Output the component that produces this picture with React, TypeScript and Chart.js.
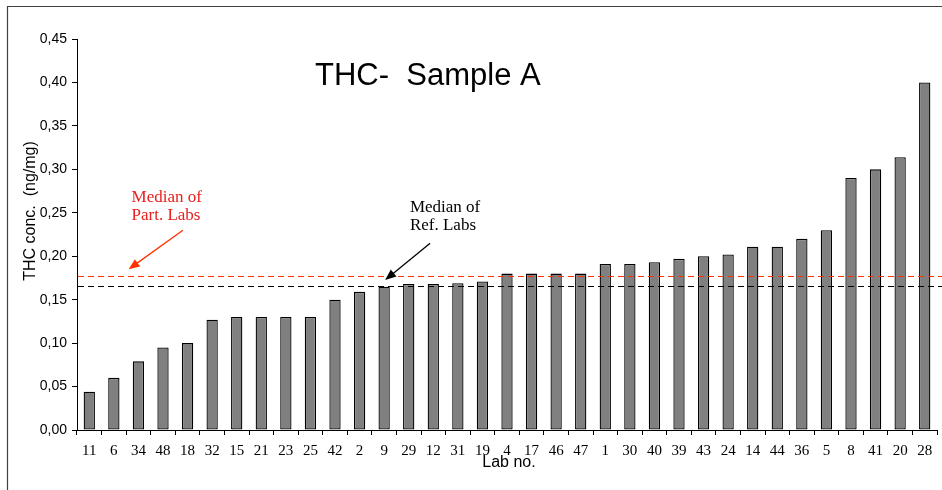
import React, { useEffect, useRef } from 'react';
import { Chart, registerables } from 'chart.js';

Chart.register(...registerables);

const LAB_IDS = ['11','6','34','48','18','32','15','21','23','25','42','2','9','29','12','31','19','4','17','46','47','1','30','40','39','43','24','14','44','36','5','8','41','20','28'];
const THC_VALUES = [0.044,0.06,0.079,0.095,0.10,0.127,0.13,0.13,0.13,0.13,0.15,0.159,0.165,0.168,0.168,0.169,0.171,0.18,0.18,0.18,0.18,0.191,0.191,0.193,0.197,0.20,0.202,0.211,0.211,0.22,0.23,0.29,0.30,0.314,0.40];
const MEDIAN_PART = 0.177;
const MEDIAN_REF = 0.166;
const Y_MIN = 0;
const Y_MAX = 0.45;
const Y_STEP = 0.05;

const TITLE = 'THC-  Sample A';
const Y_TITLE = 'THC conc.  (ng/mg)';
const X_TITLE = 'Lab no.';

// annotation anchors in data units: [category index, value]
const PART_TEXT = ['Median of', 'Part. Labs'];
const PART_TEXT_POS = [[1.72, 0.2627], [1.72, 0.2417]];
const PART_ARROW = [[3.81, 0.230], [1.6, 0.185]];
const REF_TEXT = ['Median of', 'Ref. Labs'];
const REF_TEXT_POS = [[13.05, 0.2509], [13.05, 0.2302]];
const REF_ARROW = [[13.87, 0.2149], [12.04, 0.1726]];

const SERIF = '"Liberation Serif", "Times New Roman", serif';
const SANS = '"Liberation Sans", Arial, sans-serif';

function drawArrow(ctx: CanvasRenderingContext2D, x1: number, y1: number, x2: number, y2: number, color: string) {
  const ang = Math.atan2(y2 - y1, x2 - x1);
  const head = 11;
  const half = 4.5;
  ctx.save();
  ctx.strokeStyle = color;
  ctx.fillStyle = color;
  ctx.lineWidth = 1.3;
  ctx.setLineDash([]);
  ctx.beginPath();
  ctx.moveTo(x1, y1);
  ctx.lineTo(x2 - Math.cos(ang) * head * 0.8, y2 - Math.sin(ang) * head * 0.8);
  ctx.stroke();
  ctx.beginPath();
  ctx.moveTo(x2, y2);
  ctx.lineTo(x2 - Math.cos(ang) * head - Math.sin(ang) * half, y2 - Math.sin(ang) * head + Math.cos(ang) * half);
  ctx.lineTo(x2 - Math.cos(ang) * head + Math.sin(ang) * half, y2 - Math.sin(ang) * head - Math.cos(ang) * half);
  ctx.closePath();
  ctx.fill();
  ctx.restore();
}

const overlay = {
  id: 'overlay',
  beforeDraw(chart: any) {
    const ctx = chart.ctx as CanvasRenderingContext2D;
    ctx.save();
    ctx.fillStyle = '#ffffff';
    ctx.fillRect(0, 0, chart.width, chart.height);
    ctx.strokeStyle = '#404040';
    ctx.lineWidth = 1.2;
    ctx.beginPath();
    ctx.moveTo(7.5, chart.height);
    ctx.lineTo(7.5, 6.5);
    ctx.lineTo(chart.width, 6.5);
    ctx.stroke();
    ctx.restore();
  },
  afterDatasetsDraw(chart: any) {
    const ctx = chart.ctx as CanvasRenderingContext2D;
    const xs = chart.scales.x;
    const ys = chart.scales.y;
    const area = chart.chartArea;
    const px = (i: number) => xs.getPixelForValue(i);
    const py = (v: number) => ys.getPixelForValue(v);
    ctx.save();
    // median lines
    ctx.lineWidth = 1.2;
    ctx.setLineDash([6, 4]);
    ctx.strokeStyle = '#ff3300';
    ctx.beginPath();
    ctx.moveTo(area.left + 1, Math.round(py(MEDIAN_PART)) + 0.5);
    ctx.lineTo(chart.width, Math.round(py(MEDIAN_PART)) + 0.5);
    ctx.stroke();
    ctx.strokeStyle = '#000000';
    ctx.beginPath();
    ctx.moveTo(area.left + 1, Math.round(py(MEDIAN_REF)) + 0.5);
    ctx.lineTo(chart.width, Math.round(py(MEDIAN_REF)) + 0.5);
    ctx.stroke();
    ctx.setLineDash([]);

    // arrows
    drawArrow(ctx, px(PART_ARROW[0][0]), py(PART_ARROW[0][1]), px(PART_ARROW[1][0]), py(PART_ARROW[1][1]), '#ff3300');
    drawArrow(ctx, px(REF_ARROW[0][0]), py(REF_ARROW[0][1]), px(REF_ARROW[1][0]), py(REF_ARROW[1][1]), '#000000');

    // annotation texts
    ctx.font = `17px ${SERIF}`;
    ctx.textAlign = 'left';
    ctx.textBaseline = 'alphabetic';
    ctx.fillStyle = '#e8201e';
    PART_TEXT.forEach((t, k) => ctx.fillText(t, px(PART_TEXT_POS[k][0]), py(PART_TEXT_POS[k][1])));
    ctx.fillStyle = '#000000';
    REF_TEXT.forEach((t, k) => ctx.fillText(t, px(REF_TEXT_POS[k][0]), py(REF_TEXT_POS[k][1])));

    // title
    ctx.font = `31px ${SANS}`;
    ctx.fillStyle = '#000000';
    ctx.textAlign = 'left';
    ctx.fillText(TITLE, 315, 85);

    // y title
    ctx.save();
    ctx.translate(35, 211);
    ctx.rotate(-Math.PI / 2);
    ctx.font = `16px ${SANS}`;
    ctx.textAlign = 'center';
    ctx.textBaseline = 'alphabetic';
    ctx.fillText(Y_TITLE, 0, 0);
    ctx.restore();

    // x title
    ctx.font = `16px ${SANS}`;
    ctx.textAlign = 'center';
    ctx.textBaseline = 'alphabetic';
    ctx.fillText(X_TITLE, 509, 467);
    ctx.restore();
  },
};

export default function App() {
  const ref = useRef<HTMLCanvasElement | null>(null);
  useEffect(() => {
    document.body.style.margin = '0';
    if (!ref.current) return;
    const chart = new Chart(ref.current, {
      type: 'bar',
      data: {
        labels: LAB_IDS,
        datasets: [
          {
            data: THC_VALUES,
            backgroundColor: '#808080',
            borderColor: '#000000',
            borderWidth: 1.3,
            borderSkipped: false,
            barPercentage: 0.46,
            categoryPercentage: 1,
          },
        ],
      },
      options: {
        responsive: false,
        animation: false,
        layout: { padding: { top: 39, right: 5, left: 0, bottom: 0 } },
        plugins: { legend: { display: false }, tooltip: { enabled: false }, title: { display: false } },
        scales: {
          x: {
            offset: true,
            grid: { display: true, offset: true, drawOnChartArea: false, drawTicks: true, tickLength: 5, color: '#000000' },
            border: { display: true, color: '#000000', width: 1 },
            ticks: { color: '#000000', font: { family: SERIF, size: 15 }, padding: 7, maxRotation: 0, autoSkip: false },
            afterFit: (s: any) => { s.height = 60; },
          },
          y: {
            min: Y_MIN,
            max: Y_MAX,
            grid: { display: true, drawOnChartArea: false, drawTicks: true, tickLength: 5, color: '#000000' },
            border: { display: true, color: '#000000', width: 1 },
            ticks: {
              stepSize: Y_STEP,
              color: '#000000',
              font: { family: SANS, size: 14 },
              padding: 5,
              callback: (v: any) => Number(v).toFixed(2).replace('.', ','),
            },
            afterFit: (s: any) => { s.width = 77; },
          },
        },
      },
      plugins: [overlay],
    });
    return () => chart.destroy();
  }, []);
  return (
    <div style={{ position: 'absolute', left: 0, top: 0, width: 942, height: 490 }}>
      <canvas ref={ref} width={942} height={490} />
    </div>
  );
}
